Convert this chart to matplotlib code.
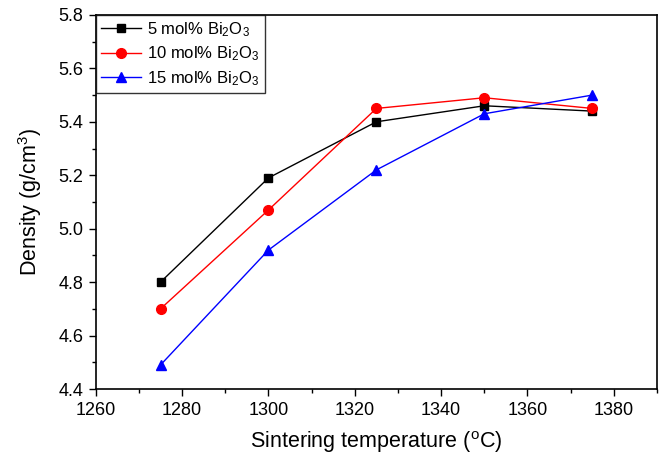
import matplotlib
matplotlib.use("Agg")
import matplotlib.pyplot as plt
from matplotlib.ticker import MultipleLocator

plt.rcParams['font.family'] = ['Liberation Sans', 'DejaVu Sans']
plt.rcParams['mathtext.fontset'] = 'custom'
plt.rcParams['mathtext.rm'] = 'Liberation Sans'
plt.rcParams['mathtext.it'] = 'Liberation Sans'

temps = [1275, 1300, 1325, 1350, 1375]
d5 = [4.80, 5.19, 5.40, 5.46, 5.44]
d10 = [4.70, 5.07, 5.45, 5.49, 5.45]
d15 = [4.49, 4.92, 5.22, 5.43, 5.50]
labels = [r'5 mol% Bi$_2$O$_3$', r'10 mol% Bi$_2$O$_3$', r'15 mol% Bi$_2$O$_3$']

fig = plt.figure(figsize=(6.65, 4.59), dpi=100)
ax = fig.add_axes([0.144, 0.1525, 0.844, 0.815])

ax.plot(temps, d5, color='black', marker='s', markersize=6, lw=1, label=labels[0])
ax.plot(temps, d10, color='red', marker='o', markersize=7, lw=1, label=labels[1])
ax.plot(temps, d15, color='blue', marker='^', markersize=7, lw=1, label=labels[2])

ax.set_xlim(1260, 1390)
ax.set_ylim(4.4, 5.8)
ax.xaxis.set_major_locator(MultipleLocator(20))
ax.xaxis.set_minor_locator(MultipleLocator(10))
ax.yaxis.set_major_locator(MultipleLocator(0.2))
ax.yaxis.set_minor_locator(MultipleLocator(0.1))
ax.yaxis.set_major_formatter(matplotlib.ticker.FormatStrFormatter('%.1f'))
ax.tick_params(which='both', direction='out', top=False, right=False, labelsize=13)
ax.tick_params(which='major', length=5, width=1, pad=4)
ax.tick_params(which='minor', length=3, width=1)
for s in ax.spines.values():
    s.set_linewidth(1.2)

ax.set_xlabel('Sintering temperature ($^{\\mathrm{o}}$C)', fontsize=15.5, labelpad=8)
ax.set_ylabel('Density (g/cm$^{3}$)', fontsize=15.5, labelpad=10)

leg = ax.legend(loc='upper left', fontsize=12, frameon=True, fancybox=False,
                edgecolor='black', borderaxespad=0, handlelength=2.4,
                borderpad=0.3, labelspacing=0.35, handletextpad=0.4)
leg.get_frame().set_linewidth(1)

fig.savefig('out.png', dpi=100)
